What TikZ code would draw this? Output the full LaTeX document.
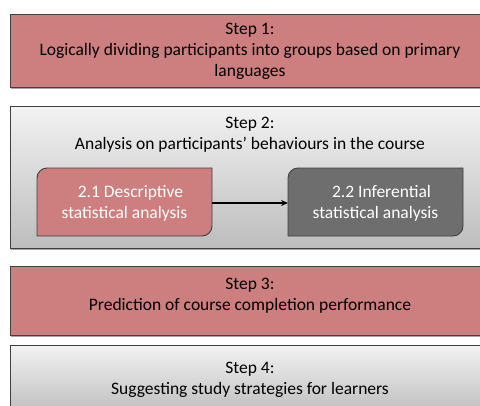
\documentclass[tikz,border=0pt]{standalone}
\usepackage{fontspec}
\setmainfont{Carlito}
\usetikzlibrary{shadows,arrows.meta}
\definecolor{steppink}{RGB}{205,127,127}
\definecolor{stepline}{RGB}{64,64,64}
\newcommand{\diagbox}[2]{% centre, fill colour
  \draw[diagline,fill=#2] (#1) ++(-87.5,-34) -- ++(0,58)
    arc[start angle=180,end angle=90,radius=10] -- ++(165,0) -- ++(0,-58)
    arc[start angle=0,end angle=-90,radius=10] -- cycle;}
\begin{document}
\begin{tikzpicture}[x=1pt,y=1pt,inner sep=0pt,outer sep=0pt,
stepbox/.style={draw=stepline,line width=0.9pt,rectangle,minimum width=480pt,align=center,
  font=\fontsize{17.5}{21}\selectfont,
  drop shadow={shadow xshift=1pt,shadow yshift=-1.5pt,fill=black,opacity=0.35}},
pinkbox/.style={stepbox,fill=steppink},
greybox/.style={stepbox,top color=black!5,bottom color=black!26},
diagline/.style={draw=stepline,line width=0.9pt},
subbox/.style={minimum width=175pt,minimum height=68pt,align=center,text=white,
  font=\fontsize{17.5}{21}\selectfont}]
\useasboundingbox (0,0) rectangle (480,-405);
\clip (0,0) rectangle (480,-405);
% steps
\draw (250,-50.5) node[pinkbox,minimum height=73pt,text depth=0.5pt] (s1)
  {Step 1:\\Logically dividing participants into groups based on primary\\languages};
\draw (250,-177.5) node[greybox,minimum height=142pt] (s2) {};
\draw (250,-134.5) node[align=center,font=\fontsize{17.5}{21}\selectfont] (s2t)
  {Step 2:\\Analysis on participants’ behaviours in the course};
\draw (250,-300.5) node[pinkbox,minimum height=69pt,text depth=13pt] (s3)
  {Step 3:\\Prediction of course completion performance};
\draw (250,-380) node[greybox,minimum height=70pt] (s4)
  {Step 4:\\Suggesting study strategies for learners};
% sub-steps
\diagbox{124.5,-202}{steppink}
\diagbox{375.5,-202}{black!57}
\draw (124.5,-203) node[subbox] (d21) {\hspace*{12pt}2.1 Descriptive\\statistical analysis};
\draw (375.5,-203) node[subbox] (d22) {\hspace*{12pt}2.2 Inferential\\statistical analysis};
\draw[-{Stealth[length=7pt,width=6pt]},line width=1.2pt] (d21.east) -- (d22.west);
\end{tikzpicture}
\end{document}
